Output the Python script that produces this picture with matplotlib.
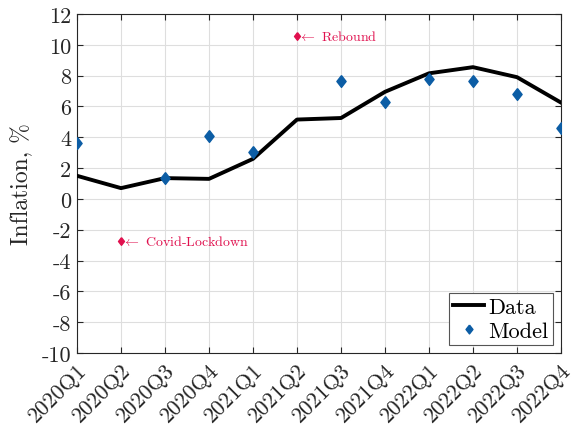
import matplotlib
matplotlib.use("Agg")
import matplotlib.pyplot as plt
import numpy as np

quarters = ["2020Q1", "2020Q2", "2020Q3", "2020Q4", "2021Q1", "2021Q2",
            "2021Q3", "2021Q4", "2022Q1", "2022Q2", "2022Q3", "2022Q4"]
data = [1.5, 0.7, 1.35, 1.3, 2.6, 5.15, 5.25, 6.95, 8.15, 8.55, 7.9, 6.25]
model_idx = [0, 2, 3, 4, 6, 7, 8, 9, 10, 11]
model = [3.6, 1.36, 4.07, 3.03, 7.68, 6.32, 7.75, 7.62, 6.84, 4.59]
event_idx = [1, 5]
event_vals = [-2.75, 10.55]
event_labels = ["Covid-Lockdown", "Rebound"]

plt.rcParams["font.family"] = "cmr10"
plt.rcParams["mathtext.fontset"] = "cm"
plt.rcParams["axes.unicode_minus"] = False
plt.rcParams["axes.formatter.use_mathtext"] = False

diamond = [(0, 1), (0.78, 0), (0, -1), (-0.78, 0), (0, 1)]

fig = plt.figure(figsize=(5.75, 4.27), dpi=100)
ax = fig.add_axes([77/575, 1-354/427, (561-77)/575, (354-15)/427])

x = np.arange(len(quarters))
ax.plot(x, data, color="black", lw=2.8, label="Data", zorder=3)
ax.plot(x[model_idx], model, ls="none", marker=diamond, ms=8.5,
        color="#0C5DA5", label="Model", zorder=4)
red = "#E0104E"
for i, v, lab in zip(event_idx, event_vals, event_labels):
    ax.plot(x[i], v, ls="none", marker=diamond, ms=5.5, color=red, zorder=4)
    ax.text(x[i] + 0.03, v, r"$\leftarrow$" + " " + lab, color=red,
            fontsize=10, va="center", ha="left")

ax.set_xlim(0, len(quarters) - 1)
ax.set_ylim(-10, 12)
ax.set_yticks(np.arange(-10, 13, 2))
ax.set_yticklabels([str(v) for v in range(-10, 13, 2)])
ax.set_xticks(x)
ax.set_xticklabels(quarters, rotation=45, ha="right", rotation_mode="anchor")
ax.tick_params(direction="in", labelsize=16, top=True, right=True, length=4,
               color="#262626", labelcolor="#262626")
ax.tick_params(axis="x", pad=5)
ax.tick_params(axis="y", pad=4)
ax.set_ylabel("Inflation, %", fontsize=17, color="#262626", labelpad=6)
ax.grid(True, color="#DEDEDE", lw=0.8)
ax.set_axisbelow(True)
for s in ax.spines.values():
    s.set_color("#262626")
    s.set_linewidth(0.8)

leg = ax.legend(loc="lower right", fontsize=16, fancybox=False,
                edgecolor="#555555", framealpha=1, borderaxespad=0.35,
                handlelength=1.4, handletextpad=0.2, borderpad=0.2,
                labelspacing=0.2, markerscale=0.75)
leg.get_frame().set_linewidth(0.8)

fig.savefig("out.png", dpi=100)
